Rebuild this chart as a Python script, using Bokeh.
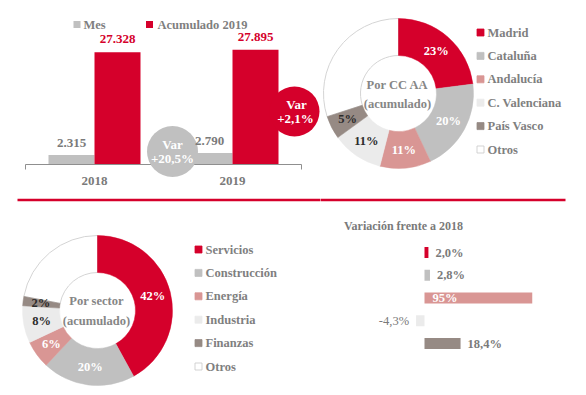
import numpy as np
from bokeh.plotting import figure
from bokeh.layouts import column, row
from bokeh.models import Range1d
from bokeh.core.properties import value
from bokeh.embed import file_html
from bokeh.resources import INLINE

# ---------------- data ----------------
years = ["2018", "2019"]
mes = [2315, 2790]
acumulado = [27328, 27895]
series_labels = ["Mes", "Acumulado 2019"]
var_mes_label = "+20,5%"
var_acum_label = "+2,1%"

ccaa = ["Madrid", "Cataluña", "Andalucía", "C. Valenciana", "País Vasco", "Otros"]
ccaa_pct = [23, 20, 11, 11, 5, 30]
ccaa_shown = [True, True, True, True, True, False]

sectores = ["Servicios", "Construcción", "Energía", "Industria", "Finanzas", "Otros"]
sector_pct = [42, 20, 6, 8, 2, 22]
sector_shown = [True, True, True, True, True, False]

var_sectores = ["Servicios", "Construcción", "Energía", "Industria", "Finanzas"]
var_values = [2.0, 2.8, 95.0, -4.3, 18.4]
var_labels = ["2,0%", "2,8%", "95%", "-4,3%", "18,4%"]

# ---------------- styles ----------------
RED = "#d5002b"
GRAY = "#c0c0c0"
PINK = "#d99694"
LIGHT = "#ebebeb"
TAUPE = "#968a84"
WHITE = "#ffffff"
TXT = "#7f7f7f"
TXT_C = "#868686"
DARK = "#2b2b2b"
FONT = "Liberation Serif"
pal = [RED, GRAY, PINK, LIGHT, TAUPE, WHITE]
lab_col = [WHITE, WHITE, WHITE, DARK, DARK, DARK]


def mk(w, h, xr, yr, right=0):
    p = figure(width=w, height=h, x_range=Range1d(*xr), y_range=Range1d(*yr),
               output_backend="svg", toolbar_location=None,
               x_axis_location=None, y_axis_location=None)
    p.min_border_left = 0
    p.min_border_right = right
    p.min_border_top = 0
    p.min_border_bottom = 0
    p.grid.visible = False
    p.outline_line_color = None
    p.background_fill_color = WHITE
    p.border_fill_color = WHITE
    return p


def txt(p, x, y, t, color, size="12.5px", align="center", xo=0, yo=0, style="bold"):
    p.text(x=list(np.atleast_1d(x)), y=list(np.atleast_1d(y)), text=list(np.atleast_1d(t)),
           text_color=color, text_font=value(FONT), text_font_size=size,
           text_font_style=style, text_align=align, text_baseline="middle",
           x_offset=xo, y_offset=yo)


# ---------------- top-left: bars ----------------
K = 243.3  # value units per pixel
X1 = lambda px: (px - 94) / 138.0
Y1 = lambda py: (164 - py) * K
tl = mk(320, 203, (X1(0), X1(320)), (Y1(203), Y1(0)))
xs = np.arange(len(years))
n = len(years)
tl.vbar(x=xs - 1 / 6, top=mes, width=1 / 3, color=GRAY, line_color=None)
tl.vbar(x=xs + 1 / 6, top=acumulado, width=1 / 3, color=RED, line_color=None)
tl.segment(x0=[-0.5], y0=[0], x1=[n - 0.5], y1=[0], line_color="#8f8f8f", line_width=1)
tl.segment(x0=[-0.5, n - 0.5], y0=[0, 0], x1=[-0.5, n - 0.5], y1=[Y1(169)] * 2,
           line_color="#8f8f8f", line_width=1)
fmt = lambda v: f"{v:,}".replace(",", ".")
# bubbles
tl.scatter(x=[X1(172)], y=[Y1(151)], size=51, marker="circle", color=GRAY, line_color=None)
tl.scatter(x=[X1(294)], y=[Y1(111)], size=50, marker="circle", color=RED, line_color=None)
txt(tl, [X1(172), X1(172)], [Y1(144), Y1(158)], ["Var", var_mes_label], WHITE, size="13px")
txt(tl, [X1(296), X1(295)], [Y1(104), Y1(118)], ["Var", var_acum_label], WHITE, size="13px")
# value labels
txt(tl, xs - 1 / 6, mes, [fmt(v) for v in mes], "#7a7a7a", size="13px", yo=-12)
txt(tl, xs + 1 / 6, acumulado, [fmt(v) for v in acumulado], RED, size="13px", yo=-13)
txt(tl, xs, [0] * n, years, "#7a7a7a", size="13px", yo=16)
# legend
tl.scatter(x=[X1(76.5), X1(149)], y=[Y1(24)] * 2, marker="square", size=7,
           color=[GRAY, RED], line_color=None)
txt(tl, [X1(83), X1(157)], [Y1(24)] * 2, series_labels, TXT, align="left")
# divider (left part)
tl.segment(x0=[X1(17)], y0=[Y1(199.5)], x1=[X1(321)], y1=[Y1(199.5)],
           line_color=RED, line_width=2.5)


# ---------------- donut helper ----------------
def donut(p, pct, shown, names, lx, ly0):
    frac = np.array(pct, dtype=float) / np.sum(pct)
    cum = np.concatenate([[0], np.cumsum(frac)])
    start = np.pi / 2 - 2 * np.pi * cum[:-1]
    end = np.pi / 2 - 2 * np.pi * cum[1:]
    i_o = len(pct) - 1
    p.annular_wedge(x=0, y=0, inner_radius=38, outer_radius=75,
                    start_angle=start[i_o], end_angle=end[i_o], direction="clock",
                    fill_color=pal[i_o], line_color="#d4d4d4", line_width=1)
    p.annular_wedge(x=0, y=0, inner_radius=38, outer_radius=75,
                    start_angle=list(start[:i_o]), end_angle=list(end[:i_o]),
                    direction="clock", fill_color=pal[:i_o], line_color=pal[:i_o],
                    line_width=0.5)
    mid = (start + end) / 2
    for i in range(len(pct)):
        if shown[i]:
            txt(p, 57 * np.cos(mid[i]), 57 * np.sin(mid[i]), f"{pct[i]}%",
                lab_col[i], size="12.5px")
    ys = ly0 - 23.4 * np.arange(len(names))
    p.scatter(x=[lx] * len(names), y=list(ys), marker="square", size=7,
              fill_color=pal, line_color=[c if c != WHITE else "#c8c8c8" for c in pal],
              line_width=0.8)
    txt(p, [lx + 7] * len(names), list(ys), names, TXT, align="left")


# ---------------- top-right: donut CC AA ----------------
tr = mk(266, 203, (-78, 188), (-110, 93))
donut(tr, ccaa_pct, ccaa_shown, ccaa, 82, 61)
txt(tr, [-1, -1], [9, -10], ["Por CC AA", "(acumulado)"], TXT_C)
tr.segment(x0=[-80], y0=[-106.5], x1=[167], y1=[-106.5], line_color=RED, line_width=2.5)

# ---------------- bottom-left: donut sector ----------------
bl = mk(300, 192, (-97, 203), (-85, 107))
donut(bl, sector_pct, sector_shown, sectores, 101, 61)
txt(bl, [-1, -1], [10, -10], ["Por sector", "(acumulado)"], TXT_C)

# ---------------- bottom-right: variation bars ----------------
S = 1.96  # px per %
X4 = lambda px: (px - 424) / S
m = len(var_values)
Y4 = lambda py: (m - 0.5) + (252 - py) / 22.75
br = mk(286, 192, (X4(300), X4(532)), (Y4(395), Y4(203)), right=54)
yv = (m - 0.5) - np.arange(m)
br.hbar(y=yv, left=0, right=var_values, height=0.48, color=pal[:m], line_color=None)
xend = br.x_range.end
for i, v in enumerate(var_values):
    if v > xend:
        txt(br, 0, yv[i], var_labels[i], WHITE, size="12.5px", align="left", xo=8)
    elif v >= 0:
        txt(br, v, yv[i], var_labels[i], "#7a7a7a", size="12.5px", align="left", xo=7)
    else:
        txt(br, v, yv[i], var_labels[i], "#7a7a7a", size="12.5px", align="right", xo=-7,
            style="normal")
txt(br, X4(403), Y4(225), "Variación frente a 2018", "#7a7a7a", size="12px")

layout = column(row(tl, tr), row(bl, br))
open("out.html", "w").write(file_html(layout, INLINE))
